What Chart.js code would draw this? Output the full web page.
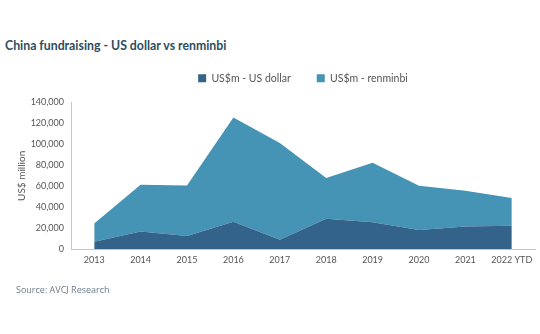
<!DOCTYPE html>
<html>
<head>
<meta charset="utf-8">
<script src="https://cdn.jsdelivr.net/npm/chart.js@4.4.1/dist/chart.umd.min.js"></script>
<style>
  html, body { margin: 0; padding: 0; background: #ffffff; }
  #wrap { position: relative; width: 540px; height: 334px; overflow: hidden; }
  #title { position: absolute; left: 5px; top: 38px; font: bold 12.3px Lato, sans-serif; color: #2e4d60; white-space: nowrap; }
  #source { position: absolute; left: 16px; top: 283px; font: 9px "Open Sans", sans-serif; color: #6b7c8a; white-space: nowrap; }
  canvas { position: absolute; left: 0; top: 0; }
</style>
</head>
<body>
<div id="wrap">
  <div id="title">China fundraising - US dollar vs renminbi</div>
  <canvas id="chart" width="540" height="334"></canvas>
  <div id="source">Source: AVCJ Research</div>
</div>
<script>
// Annual China fundraising, US$ million, split by fund currency
const years = ["2013", "2014", "2015", "2016", "2017", "2018", "2019", "2020", "2021", "2022 YTD"];
const usDollar = [7200, 17000, 12600, 26200, 9100, 29100, 25600, 18300, 21700, 22400];
const renminbi = [17400, 44500, 48300, 99500, 92200, 38800, 56900, 42300, 34100, 26400];
const yTicks = [0, 20000, 40000, 60000, 80000, 100000, 120000, 140000];

const tickFont = { family: "Lato, sans-serif", size: 9 };
const axisColor = "#bccad4";

// Lifts the legend row a little, leaving more room above the plot
const legendNudge = {
  id: "legendNudge",
  afterLayout(chart) {
    const lg = chart.legend;
    if (lg) { lg.top -= 9; lg.bottom -= 9; }
  }
};

new Chart(document.getElementById("chart"), {
  type: "line",
  data: {
    labels: years,
    datasets: [
      {
        label: "US$m - US dollar",
        data: usDollar,
        backgroundColor: "#346389",
        borderColor: "#346389",
        borderWidth: 0,
        pointRadius: 0,
        fill: "origin"
      },
      {
        label: "US$m - renminbi",
        data: renminbi,
        backgroundColor: "#4594b5",
        borderColor: "#4594b5",
        borderWidth: 0,
        pointRadius: 0,
        fill: "-1"
      }
    ]
  },
  options: {
    responsive: false,
    animation: false,
    layout: { padding: { left: 16, right: 5, top: 56, bottom: 64 } },
    plugins: {
      legend: {
        position: "top",
        fullSize: false,
        labels: {
          boxWidth: 8,
          boxHeight: 8,
          padding: 26,
          color: "#555555",
          font: { family: "Lato, sans-serif", size: 10.5 }
        }
      },
      tooltip: { enabled: false }
    },
    scales: {
      x: {
        offset: true,
        grid: { display: false, drawTicks: false },
        border: { display: true, color: axisColor, width: 1 },
        ticks: { color: "#555555", font: tickFont, padding: 5, maxRotation: 0 }
      },
      y: {
        stacked: true,
        min: 0,
        max: 140000,
        afterBuildTicks: (scale) => { scale.ticks = yTicks.map(v => ({ value: v })); },
        afterFit: (scale) => { scale.width = 55; },
        grid: { display: false, drawTicks: false },
        border: { display: true, color: axisColor, width: 1 },
        ticks: { color: "#555555", font: tickFont, padding: 7 },
        title: {
          display: true,
          text: "US$ million",
          color: "#555555",
          font: { family: "Lato, sans-serif", size: 10 },
          padding: 0
        }
      }
    }
  },
  plugins: [legendNudge]
});
</script>
</body>
</html>
